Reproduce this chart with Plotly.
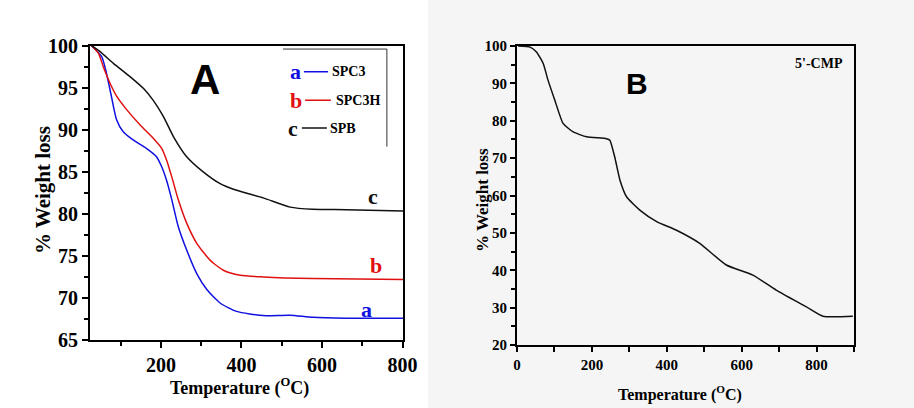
import plotly.graph_objects as go

# ---------------- Panel A data ----------------
temp_a_spc3 = [28, 53, 65, 77, 90, 106, 131, 164, 189, 202, 214, 227, 243, 264, 289, 314, 347, 388, 454, 520, 577, 660, 801]
wt_a_spc3 = [100, 98.7, 96.7, 94.0, 91.2, 89.8, 88.8, 87.8, 86.8, 85.6, 84.0, 81.7, 78.5, 75.7, 72.9, 71.0, 69.4, 68.4, 67.9, 67.95, 67.7, 67.6, 67.6]

temp_a_spc3h = [28, 45, 57, 74, 90, 115, 148, 181, 202, 214, 227, 243, 264, 289, 322, 355, 397, 454, 577, 801]
wt_a_spc3h = [100, 99.1, 97.5, 95.5, 94.0, 92.4, 90.6, 89.0, 87.8, 86.4, 84.4, 81.7, 78.9, 76.5, 74.5, 73.3, 72.7, 72.5, 72.3, 72.2]

temp_a_spb = [28, 49, 82, 124, 157, 181, 206, 231, 264, 305, 347, 388, 454, 521, 577, 660, 801]
wt_a_spb = [100, 99.3, 97.9, 96.3, 94.9, 93.5, 91.6, 89.2, 86.8, 85.0, 83.6, 82.8, 81.9, 80.8, 80.55, 80.5, 80.35]

# ---------------- Panel B data ----------------
temp_b = [3, 35, 52, 70, 83, 101, 123, 150, 186, 239, 248, 261, 275, 293, 328, 373, 426, 488, 559, 630, 692, 773, 817, 897]
wt_b = [100, 99.7, 98.4, 95.3, 90.8, 85.5, 79.3, 77.0, 75.7, 75.2, 74.8, 70.3, 64.1, 59.6, 56.1, 53.0, 50.7, 47.2, 41.4, 38.7, 34.7, 30.2, 27.7, 27.7]

ticks_a_x = [200, 400, 600, 800]
ticks_a_y = [65, 70, 75, 80, 85, 90, 95, 100]
ticks_b_x = [0, 200, 400, 600, 800]
ticks_b_y = [20, 30, 40, 50, 60, 70, 80, 90, 100]

SERIF = "Liberation Serif"
X_TITLE = "Temperature (<sup>O</sup>C)"
Y_TITLE = "% Weight loss"

fig = go.Figure()

fig.add_trace(go.Scatter(x=temp_a_spc3, y=wt_a_spc3, mode="lines", line=dict(color="#1010e0", width=1.5, shape="spline", smoothing=0.6), xaxis="x", yaxis="y", showlegend=False))
fig.add_trace(go.Scatter(x=temp_a_spc3h, y=wt_a_spc3h, mode="lines", line=dict(color="#e01010", width=1.5, shape="spline", smoothing=0.6), xaxis="x", yaxis="y", showlegend=False))
fig.add_trace(go.Scatter(x=temp_a_spb, y=wt_a_spb, mode="lines", line=dict(color="#111111", width=1.5, shape="spline", smoothing=0.6), xaxis="x", yaxis="y", showlegend=False))
fig.add_trace(go.Scatter(x=temp_b, y=wt_b, mode="lines", line=dict(color="#111111", width=1.5, shape="spline", smoothing=0.5), xaxis="x2", yaxis="y2", showlegend=False))

axis_common = dict(showgrid=False, zeroline=False, showline=True, linecolor="black", linewidth=2,
                   mirror=True, ticks="outside", tickcolor="black", tickwidth=2, automargin=False)

fig.update_layout(
    width=914, height=408,
    margin=dict(l=0, r=0, t=0, b=0, autoexpand=False),
    paper_bgcolor="white", plot_bgcolor="rgba(0,0,0,0)",
    xaxis=dict(domain=[90/914, 403/914], range=[24, 801], tickvals=ticks_a_x, ticklen=6,
               minor=dict(ticks="outside", dtick=100, tick0=0, ticklen=4, tickwidth=2, tickcolor="black"),
               tickfont=dict(family=SERIF, size=20, color="black", weight="bold"),
               anchor="y", **axis_common),
    yaxis=dict(domain=[68/408, 362.3/408], range=[65, 100], tickvals=ticks_a_y, ticklen=6,
               minor=dict(ticks="outside", dtick=2.5, tick0=0, ticklen=4, tickwidth=2, tickcolor="black"),
               tickfont=dict(family=SERIF, size=20, color="black", weight="bold"),
               anchor="x", **axis_common),
    xaxis2=dict(domain=[517/914, 854/914], range=[0, 900], tickvals=ticks_b_x, ticklen=5,
                minor=dict(ticks="outside", dtick=100, tick0=0, ticklen=5, tickwidth=2, tickcolor="black"),
                tickfont=dict(family=SERIF, size=15, color="black", weight="bold"),
                anchor="y2", **axis_common),
    yaxis2=dict(domain=[63/408, 362/408], range=[20, 100], tickvals=ticks_b_y, ticklen=5,
                minor=dict(ticks="outside", dtick=5, tick0=0, ticklen=4, tickwidth=2, tickcolor="black"),
                tickfont=dict(family=SERIF, size=15, color="black", weight="bold"),
                anchor="x2", **axis_common),
)

shapes = [
    dict(type="rect", xref="paper", yref="paper", x0=428/914, x1=1, y0=0, y1=1,
         fillcolor="#f5f5f5", line=dict(width=0), layer="below"),
    dict(type="line", xref="x", yref="y", x0=503, x1=761, y0=99.6, y1=99.6, line=dict(color="#333333", width=1)),
    dict(type="line", xref="x", yref="y", x0=761, x1=761, y0=99.6, y1=88.0, line=dict(color="#333333", width=1)),
    dict(type="line", xref="x", yref="y", x0=555, x1=615, y0=96.9, y1=96.9, line=dict(color="#1010e0", width=1.5)),
    dict(type="line", xref="x", yref="y", x0=558, x1=622, y0=93.5, y1=93.5, line=dict(color="#e01010", width=1.5)),
    dict(type="line", xref="x", yref="y", x0=550, x1=612, y0=90.2, y1=90.2, line=dict(color="#111111", width=1.5)),
]
fig.update_layout(shapes=shapes)

ann = []
def add(text, x, y, xref, yref, size, color="black", family=SERIF, xanchor="center", weight="bold", angle=0):
    ann.append(dict(text=text, x=x, y=y, xref=xref, yref=yref, showarrow=False, xanchor=xanchor, yanchor="middle",
                    textangle=angle, font=dict(family=family, size=size, color=color, weight=weight)))

# axis titles (pixel-placed in paper coordinates)
add(X_TITLE, 240/914, (408-387)/408, "paper", "paper", 18)
add(Y_TITLE, 43/914, (408-190)/408, "paper", "paper", 21, angle=-90)
add(X_TITLE, 680/914, (408-393)/408, "paper", "paper", 16)
add(Y_TITLE, 482/914, (408-200)/408, "paper", "paper", 17, angle=-90)

add("A", (205-161)*2.4845+200, (408-80)/408, "x", "paper", 42, family="Liberation Sans")
add("a", 535, 96.9, "x", "y", 22, color="#1010e0")
add("SPC3", 620, 96.9, "x", "y", 14, xanchor="left")
add("b", 535, 93.5, "x", "y", 22, color="#e01010")
add("SPC3H", 630, 93.5, "x", "y", 14, xanchor="left")
add("c", 528, 90.2, "x", "y", 22, color="#111111")
add("SPB", 615, 90.2, "x", "y", 14, xanchor="left")
add("c", 727, 82.1, "x", "y", 22, color="#111111")
add("b", 735, 73.9, "x", "y", 22, color="#e01010")
add("a", 710, 68.6, "x", "y", 22, color="#1010e0")
add("B", 320, 90, "x2", "y2", 30, family="Liberation Sans")
add("5'-CMP", 807, 95.2, "x2", "y2", 14)
fig.update_layout(annotations=ann)

fig.write_html("out.html")
